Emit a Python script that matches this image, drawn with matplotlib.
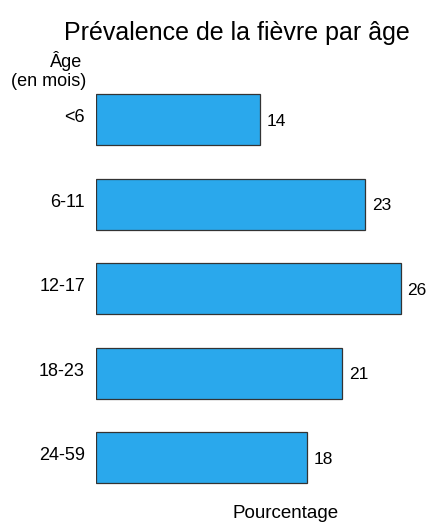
import matplotlib.pyplot as plt
from matplotlib.transforms import ScaledTranslation

plt.rcParams['font.family'] = ['Liberation Sans', 'DejaVu Sans']

ages = ["<6", "6-11", "12-17", "18-23", "24-59"]
pct = [14, 23, 26, 21, 18]

W, H = 431, 523
fig = plt.figure(figsize=(W / 100, H / 100), dpi=100)
ax = fig.add_axes([96 / W, 33 / H, (W - 96) / W, 400 / H])

pos = list(range(len(ages)))
ax.barh(pos, pct, height=0.6, color="#2aa8ec", edgecolor="#333333", linewidth=0.9)
for p, v in zip(pos, pct):
    ax.text(v + 0.6, p + 0.02, str(v), va="center", ha="left", fontsize=12.5)

ax.set_xlim(0, 28.6)
ax.set_ylim(4.38, -0.35)
ax.set_yticks(pos)
ax.set_yticklabels(ages, fontsize=13)
ax.tick_params(axis="y", length=0, pad=8)
# labels sit a little above the bar centres
for lab in ax.get_yticklabels():
    lab.set_transform(lab.get_transform() + ScaledTranslation(0, 4 / 100, fig.dpi_scale_trans))
ax.set_xticks([])
for s in ax.spines.values():
    s.set_visible(False)

fig.text(237 / W, 1 - 33 / H, "Prévalence de la fièvre par âge", ha="center", va="center", fontsize=18)
fig.text(82 / W, 1 - 61 / H, "Âge", ha="right", va="center", fontsize=13)
fig.text(86 / W, 1 - 82 / H, "(en mois)", ha="right", va="center", fontsize=13)
fig.text(286 / W, 1 - 514 / H, "Pourcentage", ha="center", va="center", fontsize=13.5)

fig.savefig("out.png", dpi=100)
